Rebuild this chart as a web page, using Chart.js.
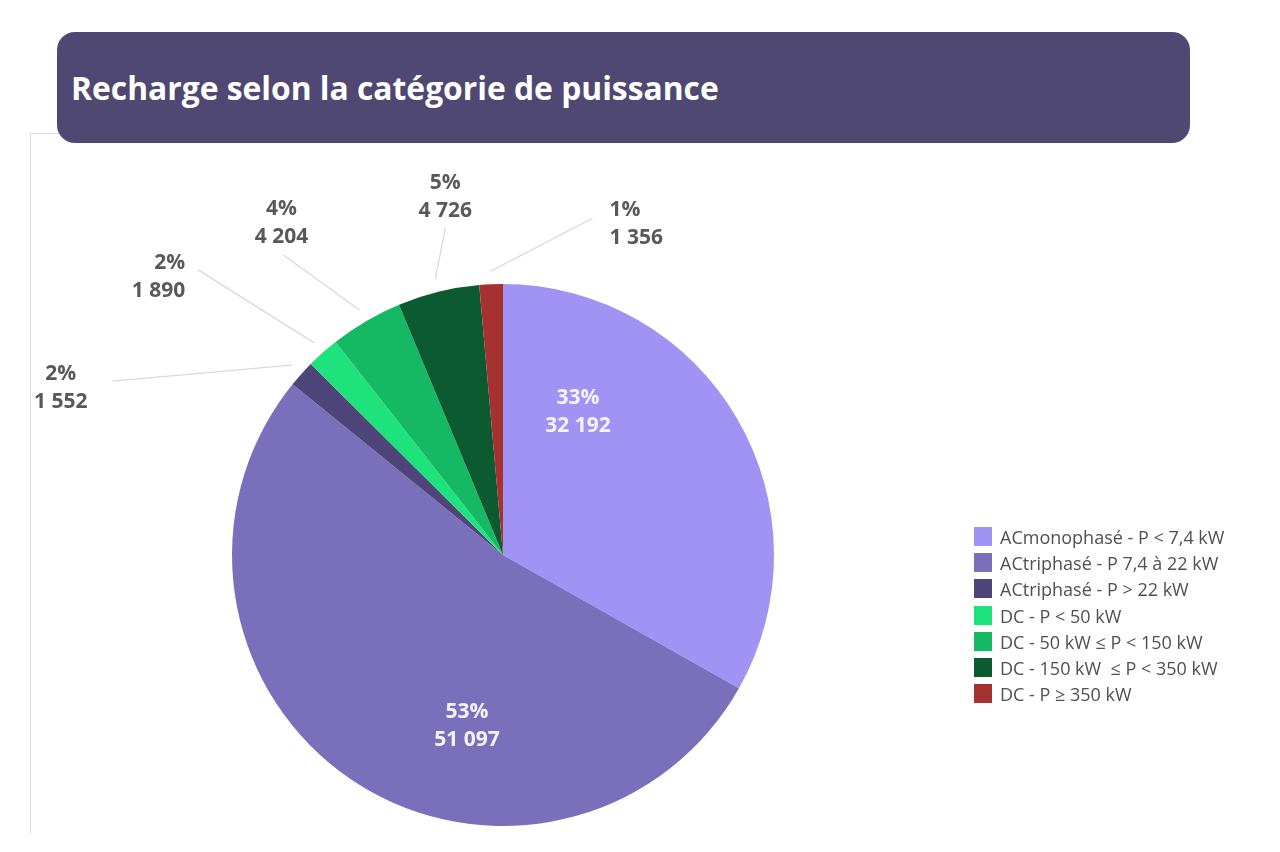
<!DOCTYPE html>
<html lang="fr">
<head>
<meta charset="utf-8">
<title>Recharge selon la catégorie de puissance</title>
<script src="https://cdn.jsdelivr.net/npm/chart.js@4.4.1/dist/chart.umd.min.js"></script>
<style>
	html, body {
		margin: 0;
		padding: 0;
		background: #ffffff;
		width: 1280px;
		height: 852px;
		overflow: hidden;
		font-family: "Open Sans", "Noto Sans", sans-serif;
	}
	#frame {
		position: absolute;
		left: 30px;
		top: 133px;
		width: 1160px;
		height: 700px;
		border-left: 1px solid #dcdcdc;
		border-top: 1px solid #dcdcdc;
	}
	#chart {
		position: absolute;
		left: 0;
		top: 0;
	}
	#banner {
		position: absolute;
		left: 57px;
		top: 32px;
		width: 1133px;
		height: 111px;
		background: #4f4873;
		border-radius: 18px;
	}
	#banner h1 {
		margin: 0;
		position: absolute;
		left: 14px;
		top: 36px;
		color: #ffffff;
		font-size: 31.8px;
		font-weight: 700;
		line-height: 40px;
		white-space: nowrap;
	}
	#legend {
		position: absolute;
		left: 974px;
		top: 527px;
	}
	.legend-row {
		height: 26.2px;
		display: flex;
		align-items: flex-start;
	}
	.legend-box {
		width: 18px;
		height: 19px;
		margin-right: 8px;
	}
	.legend-text {
		font-size: 18px;
		line-height: 22px;
		margin-top: -1px;
		color: #505050;
		white-space: pre;
	}
</style>
</head>
<body>
<div id="frame"></div>
<canvas id="chart" width="1280" height="852"></canvas>
<div id="banner"><h1>Recharge selon la catégorie de puissance</h1></div>
<div id="legend"></div>
<script>
const categories = [
	"ACmonophasé - P < 7,4 kW",
	"ACtriphasé - P 7,4 à 22 kW",
	"ACtriphasé - P > 22 kW",
	"DC - P < 50 kW",
	"DC - 50 kW ≤ P < 150 kW",
	"DC - 150 kW  ≤ P < 350 kW",
	"DC - P ≥ 350 kW",
];
const recharges = [32192, 51097, 1552, 1890, 4204, 4726, 1356];
const colors = ["#a093f4", "#7a6fbb", "#4e4578", "#1ee27c", "#15b863", "#0c5a2f", "#a53131"];

const total = recharges.reduce((a, b) => a + b, 0);
const fmtNumber = (v) => String(v).replace(/\B(?=(\d{3})+(?!\d))/g, " ");
const fmtPercent = (v) => Math.round((v / total) * 100) + "%";

// where each label goes: big slices inside, small ones outside with a leader line
const labelPlacement = [
	{ inside: [75, -143] },
	{ inside: [-36, 171] },
	{ line: [-179, 16], text: [-52, 7], align: "center" },
	{ line: [-116, -73], text: [-13, 7], align: "right" },
	{ line: [-76, -55], text: [-2, -32], align: "center" },
	{ line: [10, -51], text: [0, -31], align: "center" },
	{ line: [102, -53], text: [17, 6], align: "left" },
];

const sliceLabels = {
	id: "sliceLabels",
	afterDatasetsDraw(chart) {
		const ctx = chart.ctx;
		const meta = chart.getDatasetMeta(0);
		ctx.save();
		ctx.font = "700 21px 'Open Sans', sans-serif";
		ctx.textBaseline = "middle";
		meta.data.forEach((arc, i) => {
			const p = labelPlacement[i];
			const lines = [fmtPercent(recharges[i]), fmtNumber(recharges[i])];
			let x, y;
			if (p.inside) {
				x = arc.x + p.inside[0];
				y = arc.y + p.inside[1];
				ctx.fillStyle = "#f4f2fb";
				ctx.textAlign = "center";
			} else {
				const mid = (arc.startAngle + arc.endAngle) / 2;
				const sx = arc.x + Math.cos(mid) * (arc.outerRadius + 13);
				const sy = arc.y + Math.sin(mid) * (arc.outerRadius + 13);
				const ex = sx + p.line[0];
				const ey = sy + p.line[1];
				ctx.strokeStyle = "#d9d9d9";
				ctx.lineWidth = 1.3;
				ctx.beginPath();
				ctx.moveTo(sx, sy);
				ctx.lineTo(ex, ey);
				ctx.stroke();
				x = ex + p.text[0];
				y = ey + p.text[1];
				ctx.fillStyle = "#595959";
				ctx.textAlign = p.align;
			}
			ctx.fillText(lines[0], x, y - 14);
			ctx.fillText(lines[1], x, y + 14);
		});
		ctx.restore();
	},
};

new Chart(document.getElementById("chart").getContext("2d"), {
	type: "pie",
	data: {
		labels: categories,
		datasets: [
			{
				data: recharges,
				backgroundColor: colors,
				borderWidth: 0,
			},
		],
	},
	options: {
		responsive: false,
		animation: false,
		layout: {
			padding: { left: 232, right: 506, top: 284, bottom: 26 },
		},
		plugins: {
			legend: { display: false },
			tooltip: { enabled: false },
		},
	},
	plugins: [sliceLabels],
});

const legend = document.getElementById("legend");
legend.innerHTML = categories
	.map(
		(name, i) => `
		<div class="legend-row">
			<div class="legend-box" style="background:${colors[i]}"></div>
			<div class="legend-text">${name}</div>
		</div>`
	)
	.join("");
</script>
</body>
</html>
